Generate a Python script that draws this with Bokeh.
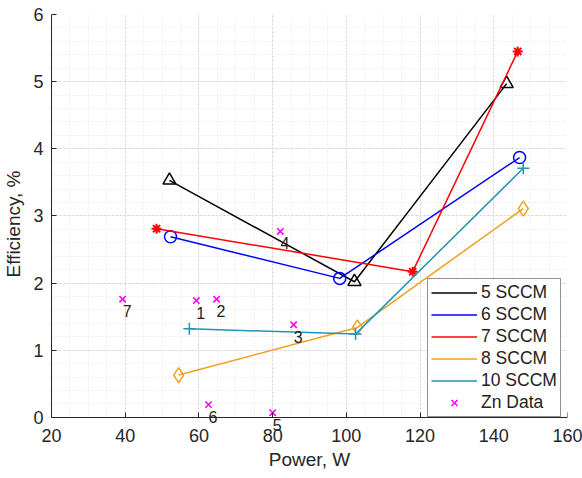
from bokeh.plotting import figure
from bokeh.models import (FixedTicker, Legend, LegendItem, ColumnDataSource, BoxAnnotation,
                          LinearAxis)
from bokeh.core.properties import value
from bokeh.embed import file_html
from bokeh.resources import INLINE

# ---- data ----
p5_x = [52.0, 102.2, 143.5]
p5_y = [3.53, 2.02, 4.97]
p6_x = [52.3, 98.2, 147.0]
p6_y = [2.69, 2.07, 3.87]
p7_x = [48.5, 118.0, 146.5]
p7_y = [2.81, 2.17, 5.45]
p8_x = [54.5, 103.0, 148.0]
p8_y = [0.63, 1.34, 3.11]
p10_x = [57.4, 102.5, 148.0]
p10_y = [1.32, 1.24, 3.71]
zn_x = [59.3, 64.8, 85.7, 82.1, 80.0, 62.6, 39.3]
zn_y = [1.74, 1.76, 1.38, 2.77, 0.07, 0.19, 1.76]
zn_labels = ["1", "2", "3", "4", "5", "6", "7"]

x_ticks = [20, 40, 60, 80, 100, 120, 140, 160]
y_ticks = [0, 1, 2, 3, 4, 5, 6]

FONT = "Liberation Sans"
AX = "#262626"
Y_LOW = -0.24  # room below the axis so the point labels are not clipped

p = figure(width=582, height=478, x_range=(20, 160), y_range=(Y_LOW, 6),
           output_backend="svg", toolbar_location=None,
           min_border_left=50, min_border_right=15, min_border_top=14, min_border_bottom=45)
p.outline_line_color = None
p.background_fill_color = "white"
p.border_fill_color = "white"

x_minor = [20 + 5 * i for i in range(29)]
y_minor = [round(0.2 * i, 2) for i in range(31)]
xt = FixedTicker(ticks=x_ticks, minor_ticks=x_minor)
p.xaxis.ticker = xt
p.yaxis.ticker = FixedTicker(ticks=y_ticks, minor_ticks=y_minor)
p.yaxis.bounds = (0, 6)

for ax in (p.xaxis, p.yaxis):
    ax.axis_line_color = AX
    ax.major_tick_line_color = AX
    ax.major_tick_in = 5
    ax.major_tick_out = 0
    ax.minor_tick_in = 0
    ax.minor_tick_out = 0
    ax.major_label_text_font = FONT
    ax.major_label_text_font_size = "18px"
    ax.major_label_text_color = AX
    ax.axis_label_text_font = FONT
    ax.axis_label_text_font_size = "19px"
    ax.axis_label_text_font_style = "normal"
    ax.axis_label_text_color = AX

# bottom axis in the panel: only tick labels and title
p.xaxis.axis_label = "Power, W"
p.xaxis.axis_line_color = None
p.xaxis.major_tick_line_color = None
p.xaxis.major_label_standoff = -5
p.xaxis.axis_label_standoff = 4

# axis line and ticks at y = 0 (no labels drawn)
x0 = LinearAxis(ticker=xt, fixed_location=0, major_label_text_color=None,
                axis_line_color=AX, major_tick_line_color=AX, major_tick_in=5,
                major_tick_out=0, minor_tick_in=0, minor_tick_out=0)
p.add_layout(x0, "below")

p.yaxis.axis_label = "Efficiency, %"
p.yaxis.major_label_standoff = 8
p.yaxis.axis_label_standoff = 6

for g in (p.xgrid, p.ygrid):
    g.grid_line_color = "#d4d4d4"
    g.grid_line_dash = "2 2"
    g.minor_grid_line_color = "#e4e4e4"
    g.minor_grid_line_dash = "1 2"

# white strip below y=0 (hides grid there)
p.add_layout(BoxAnnotation(left=20, right=160, bottom=Y_LOW, top=0, fill_color="white",
                           fill_alpha=1, line_color=None, level="underlay"))

BLACK = "#000000"
BLUE = "#0000ff"
RED = "#ff0000"
ORANGE = "#f0a020"
TEAL = "#2196b4"
MAG = "#ff00ff"

l5 = p.line(p5_x, p5_y, line_color=BLACK, line_width=1.5)
p.scatter(p5_x, p5_y, marker="triangle", size=13, fill_color=None, line_color=BLACK, line_width=1.5)
l6 = p.line(p6_x, p6_y, line_color=BLUE, line_width=1.5)
p.scatter(p6_x, p6_y, marker="circle", size=12, fill_color=None, line_color=BLUE, line_width=1.5)
l7 = p.line(p7_x, p7_y, line_color=RED, line_width=1.5)
p.scatter(p7_x, p7_y, marker="asterisk", size=10, line_color=RED, line_width=2)
l8 = p.line(p8_x, p8_y, line_color=ORANGE, line_width=1.5)
p.scatter(p8_x, p8_y, marker="diamond", size=15, fill_color=None, line_color=ORANGE, line_width=1.5)
l10 = p.line(p10_x, p10_y, line_color=TEAL, line_width=1.5)
p.scatter(p10_x, p10_y, marker="cross", size=12, line_color=TEAL, line_width=1.5)

zn_src = ColumnDataSource(dict(x=zn_x, y=zn_y, t=zn_labels))
zn = p.scatter("x", "y", source=zn_src, marker="x", size=9, line_color=MAG, line_width=1.6)
p.text("x", "y", text="t", source=zn_src, x_offset=0, y_offset=12,
       text_font=value(FONT), text_font_size="16px", text_color="#222222",
       text_align="left", text_baseline="middle")

legend = Legend(items=[
    LegendItem(label="5 SCCM", renderers=[l5]),
    LegendItem(label="6 SCCM", renderers=[l6]),
    LegendItem(label="7 SCCM", renderers=[l7]),
    LegendItem(label="8 SCCM", renderers=[l8]),
    LegendItem(label="10 SCCM", renderers=[l10]),
    LegendItem(label="Zn Data", renderers=[zn]),
], location=(376, 16))
legend.padding = 3
legend.spacing = 1
legend.glyph_width = 46
legend.glyph_height = 21
legend.label_height = 21
legend.label_standoff = 4
legend.label_text_font = FONT
legend.label_text_font_size = "17.5px"
legend.label_text_color = "#222222"
legend.border_line_color = "#262626"
legend.border_line_width = 1
legend.background_fill_color = "white"
legend.background_fill_alpha = 1
p.add_layout(legend)

open("out.html", "w").write(file_html(p, INLINE))
